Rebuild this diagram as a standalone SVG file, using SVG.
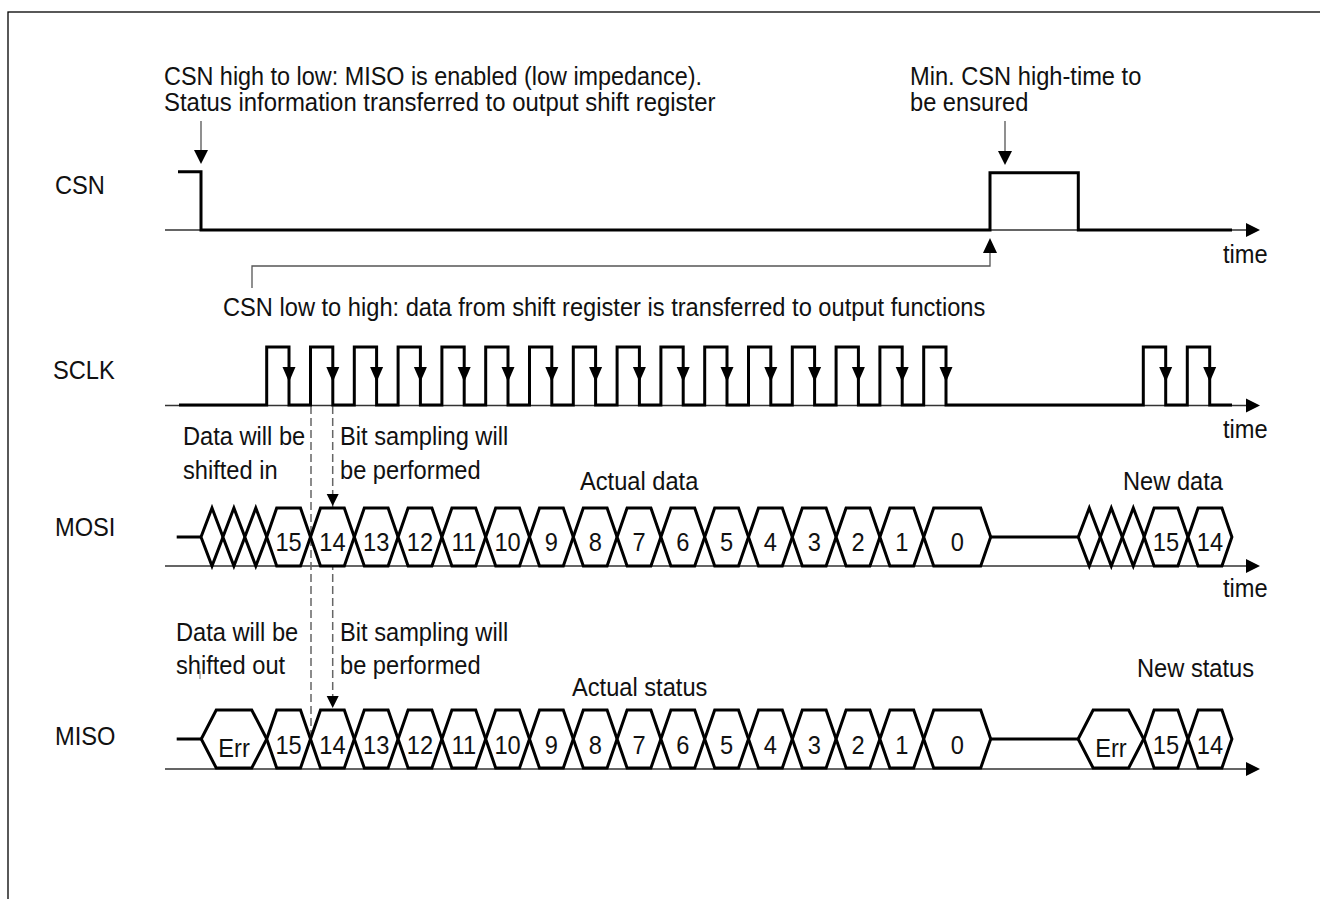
<svg xmlns="http://www.w3.org/2000/svg" xmlns:xlink="http://www.w3.org/1999/xlink" width="1320" height="899" viewBox="0 0 1320 899">
<style>
.sig{fill:none;stroke:#000;stroke-width:3;stroke-linejoin:miter}
.hex{fill:#fff;stroke:#000;stroke-width:3;stroke-linejoin:miter}
.axis{fill:none;stroke:#333;stroke-width:1.3}
.thin{fill:none;stroke:#555;stroke-width:1.3}
.dash{fill:none;stroke:#666;stroke-width:1.5;stroke-dasharray:8 4}
.ah{fill:#000;stroke:none}
text{font-family:"Liberation Sans",Arial,sans-serif;font-size:26px;fill:#111}
.c{text-anchor:middle}
</style>
<defs>
<path id="hx" d="M-21.9,0 L-11.9,-29 L11.9,-29 L21.9,0 L11.9,29 L-11.9,29 Z"/>
<path id="dia" d="M-11,0 L0,-29 L11,0 L0,29 Z"/>
<path id="hx0" d="M-33.5,0 L-23.5,-29 L23.5,-29 L33.5,0 L23.5,29 L-23.5,29 Z"/>
<path id="err" d="M-32.75,0 L-17.75,-29 L17.75,-29 L32.75,0 L17.75,29 L-17.75,29 Z"/>
<path id="dn" d="M-6.5,0 L6.5,0 L0,15 Z"/>
<path id="dn7" d="M-7,0 L7,0 L0,14 Z"/>
<path id="up7" d="M-7,0 L7,0 L0,-15 Z"/>
<path id="dn6" d="M-6,0 L6,0 L0,12 Z"/>
<path id="rt" d="M0,-7 L0,7 L14,0 Z"/>
</defs>
<rect x="8" y="12" width="1400" height="1000" fill="#fff" stroke="#000" stroke-width="1.3"/>

<g id="axes">
<path class="axis" d="M165,230 H1248 M165,405.5 H1248 M165,566 H1248 M165,769 H1248"/>
<use href="#rt" class="ah" x="1246" y="230"/>
<use href="#rt" class="ah" x="1246" y="405.5"/>
<use href="#rt" class="ah" x="1246" y="566"/>
<use href="#rt" class="ah" x="1246" y="769"/>
<text transform="matrix(0.91 0 0 1 1223 263)">time</text>
<text transform="matrix(0.91 0 0 1 1223 438)">time</text>
<text transform="matrix(0.91 0 0 1 1223 597)">time</text>
</g>

<g id="connectors">
<path class="thin" d="M201,121 V151 M1005,121 V152"/>
<use href="#dn7" class="ah" x="201" y="150"/>
<use href="#dn7" class="ah" x="1005" y="151"/>
<path class="thin" d="M252,288 V266 H990 V252"/>
<use href="#up7" class="ah" x="990" y="253"/>
<path class="dash" d="M311,406 V739 M332.7,406 V697"/>
<line x1="200" y1="671" x2="200" y2="679" stroke="#777" stroke-width="1"/>
</g>

<g id="csn">
<text transform="matrix(0.91 0 0 1 55 194)">CSN</text>
<path class="sig" d="M178,171.7 H201 V230 H990 V172.7 H1078.3 V230 H1232"/>
</g>

<g id="sclk">
<text transform="matrix(0.91 0 0 1 53 379)">SCLK</text>
<path class="sig" d="M179,405 H266.7 V347 H289 V405 H310.5 V347 H332.8 V405 H354.3 V347 H376.6 V405 H398.1 V347 H420.4 V405 H441.9 V347 H464.2 V405 H485.7 V347 H508 V405 H529.5 V347 H551.8 V405 H573.3 V347 H595.6 V405 H617.1 V347 H639.4 V405 H660.9 V347 H683.2 V405 H704.7 V347 H727 V405 H748.5 V347 H770.8 V405 H792.3 V347 H814.6 V405 H836.1 V347 H858.4 V405 H879.9 V347 H902.2 V405 H923.7 V347 H946 V405 H1143.3 V347 H1165.7 V405 H1187.3 V347 H1209.7 V405 H1232"/>
<g class="ah">
<use href="#dn" x="289" y="367"/><use href="#dn" x="332.8" y="367"/><use href="#dn" x="376.6" y="367"/><use href="#dn" x="420.4" y="367"/>
<use href="#dn" x="464.2" y="367"/><use href="#dn" x="508" y="367"/><use href="#dn" x="551.8" y="367"/><use href="#dn" x="595.6" y="367"/>
<use href="#dn" x="639.4" y="367"/><use href="#dn" x="683.2" y="367"/><use href="#dn" x="727" y="367"/><use href="#dn" x="770.8" y="367"/>
<use href="#dn" x="814.6" y="367"/><use href="#dn" x="858.4" y="367"/><use href="#dn" x="902.2" y="367"/><use href="#dn" x="946" y="367"/>
<use href="#dn" x="1165.7" y="367"/><use href="#dn" x="1209.7" y="367"/>
</g>
</g>

<g id="mosi">
<text transform="matrix(0.91 0 0 1 55 536)">MOSI</text>
<path class="sig" d="M176.7,537 H201 M990.7,537 H1078.3"/>
<g class="hex">
<use href="#dia" x="212" y="537"/><use href="#dia" x="233.9" y="537"/><use href="#dia" x="255.8" y="537"/>
<use href="#hx" x="288.6" y="537"/><use href="#hx" x="332.4" y="537"/><use href="#hx" x="376.2" y="537"/><use href="#hx" x="420" y="537"/>
<use href="#hx" x="463.8" y="537"/><use href="#hx" x="507.6" y="537"/><use href="#hx" x="551.4" y="537"/><use href="#hx" x="595.2" y="537"/>
<use href="#hx" x="639" y="537"/><use href="#hx" x="682.8" y="537"/><use href="#hx" x="726.6" y="537"/><use href="#hx" x="770.4" y="537"/>
<use href="#hx" x="814.2" y="537"/><use href="#hx" x="858" y="537"/><use href="#hx" x="901.8" y="537"/>
<use href="#hx0" x="957.2" y="537"/>
<use href="#dia" x="1089.3" y="537"/><use href="#dia" x="1111.3" y="537"/><use href="#dia" x="1133.3" y="537"/>
<use href="#hx" x="1166" y="537"/><use href="#hx" x="1210" y="537"/>
</g>
<g class="c">
<text transform="matrix(0.91 0 0 1 288.6 551)">15</text><text transform="matrix(0.91 0 0 1 332.4 551)">14</text>
<text transform="matrix(0.91 0 0 1 376.2 551)">13</text><text transform="matrix(0.91 0 0 1 420 551)">12</text>
<text transform="matrix(0.91 0 0 1 463.8 551)">11</text><text transform="matrix(0.91 0 0 1 507.6 551)">10</text>
<text transform="matrix(0.91 0 0 1 551.4 551)">9</text><text transform="matrix(0.91 0 0 1 595.2 551)">8</text>
<text transform="matrix(0.91 0 0 1 639 551)">7</text><text transform="matrix(0.91 0 0 1 682.8 551)">6</text>
<text transform="matrix(0.91 0 0 1 726.6 551)">5</text><text transform="matrix(0.91 0 0 1 770.4 551)">4</text>
<text transform="matrix(0.91 0 0 1 814.2 551)">3</text><text transform="matrix(0.91 0 0 1 858 551)">2</text>
<text transform="matrix(0.91 0 0 1 901.8 551)">1</text><text transform="matrix(0.91 0 0 1 957.2 551)">0</text>
<text transform="matrix(0.91 0 0 1 1166 551)">15</text><text transform="matrix(0.91 0 0 1 1210 551)">14</text>
</g>
<use href="#dn6" class="ah" x="332.7" y="494"/>
</g>

<g id="miso">
<text transform="matrix(0.91 0 0 1 55 745)">MISO</text>
<path class="sig" d="M176.7,739 H201 M990.7,739 H1078.3"/>
<g class="hex">
<use href="#err" x="234" y="739"/>
<use href="#hx" x="288.6" y="739"/><use href="#hx" x="332.4" y="739"/><use href="#hx" x="376.2" y="739"/><use href="#hx" x="420" y="739"/>
<use href="#hx" x="463.8" y="739"/><use href="#hx" x="507.6" y="739"/><use href="#hx" x="551.4" y="739"/><use href="#hx" x="595.2" y="739"/>
<use href="#hx" x="639" y="739"/><use href="#hx" x="682.8" y="739"/><use href="#hx" x="726.6" y="739"/><use href="#hx" x="770.4" y="739"/>
<use href="#hx" x="814.2" y="739"/><use href="#hx" x="858" y="739"/><use href="#hx" x="901.8" y="739"/>
<use href="#hx0" x="957.2" y="739"/>
<use href="#err" x="1110.9" y="739"/>
<use href="#hx" x="1166" y="739"/><use href="#hx" x="1210" y="739"/>
</g>
<g class="c">
<text transform="matrix(0.91 0 0 1 234 757)">Err</text>
<text transform="matrix(0.91 0 0 1 288.6 754)">15</text><text transform="matrix(0.91 0 0 1 332.4 754)">14</text>
<text transform="matrix(0.91 0 0 1 376.2 754)">13</text><text transform="matrix(0.91 0 0 1 420 754)">12</text>
<text transform="matrix(0.91 0 0 1 463.8 754)">11</text><text transform="matrix(0.91 0 0 1 507.6 754)">10</text>
<text transform="matrix(0.91 0 0 1 551.4 754)">9</text><text transform="matrix(0.91 0 0 1 595.2 754)">8</text>
<text transform="matrix(0.91 0 0 1 639 754)">7</text><text transform="matrix(0.91 0 0 1 682.8 754)">6</text>
<text transform="matrix(0.91 0 0 1 726.6 754)">5</text><text transform="matrix(0.91 0 0 1 770.4 754)">4</text>
<text transform="matrix(0.91 0 0 1 814.2 754)">3</text><text transform="matrix(0.91 0 0 1 858 754)">2</text>
<text transform="matrix(0.91 0 0 1 901.8 754)">1</text><text transform="matrix(0.91 0 0 1 957.2 754)">0</text>
<text transform="matrix(0.91 0 0 1 1110.9 757)">Err</text>
<text transform="matrix(0.91 0 0 1 1166 754)">15</text><text transform="matrix(0.91 0 0 1 1210 754)">14</text>
</g>
<use href="#dn6" class="ah" x="332.7" y="696"/>
</g>

<g id="annotations">
<text transform="matrix(0.9 0 0 1 164 85)">CSN high to low: MISO is enabled (low impedance).</text>
<text transform="matrix(0.92 0 0 1 164 111)">Status information transferred to output shift register</text>
<text transform="matrix(0.91 0 0 1 910 85)">Min. CSN high-time to</text>
<text transform="matrix(0.91 0 0 1 910 111)">be ensured</text>
<text transform="matrix(0.91 0 0 1 223 316)">CSN low to high: data from shift register is transferred to output functions</text>
<text transform="matrix(0.91 0 0 1 183 445)">Data will be</text>
<text transform="matrix(0.91 0 0 1 183 479)">shifted in</text>
<text transform="matrix(0.91 0 0 1 340 445)">Bit sampling will</text>
<text transform="matrix(0.91 0 0 1 340 479)">be performed</text>
<text transform="matrix(0.91 0 0 1 580 490)">Actual data</text>
<text transform="matrix(0.91 0 0 1 1123 490)">New data</text>
<text transform="matrix(0.91 0 0 1 176 641)">Data will be</text>
<text transform="matrix(0.91 0 0 1 176 674)">shifted out</text>
<text transform="matrix(0.91 0 0 1 340 641)">Bit sampling will</text>
<text transform="matrix(0.91 0 0 1 340 674)">be performed</text>
<text transform="matrix(0.91 0 0 1 572 696)">Actual status</text>
<text transform="matrix(0.91 0 0 1 1137 677)">New status</text>
</g>
</svg>
